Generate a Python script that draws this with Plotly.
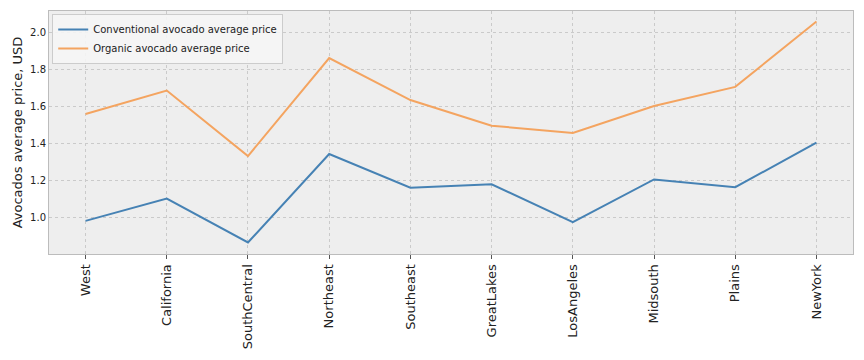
import plotly.graph_objects as go

regions = ["West", "California", "SouthCentral", "Northeast", "Southeast",
           "GreatLakes", "LosAngeles", "Midsouth", "Plains", "NewYork"]
conventional = [0.984, 1.104, 0.868, 1.344, 1.163, 1.181, 0.977, 1.207, 1.165, 1.405]
organic = [1.559, 1.685, 1.333, 1.860, 1.634, 1.496, 1.457, 1.602, 1.705, 2.057]
y_ticks = [1.0, 1.2, 1.4, 1.6, 1.8, 2.0]

fig = go.Figure()
fig.add_trace(go.Scatter(x=list(range(len(regions))), y=conventional, mode="lines",
                         name="Conventional avocado average price",
                         line=dict(color="#4682B4", width=2)))
fig.add_trace(go.Scatter(x=list(range(len(regions))), y=organic, mode="lines",
                         name="Organic avocado average price",
                         line=dict(color="#F4A460", width=2)))

fig.update_layout(
    width=864, height=360,
    margin=dict(l=49, r=11, t=11, b=106),
    paper_bgcolor="white", plot_bgcolor="#eeeeee",
    font=dict(family="DejaVu Sans", color="#222222"),
    showlegend=True,
    legend=dict(x=0.004, y=0.988, xanchor="left", yanchor="top",
                bgcolor="rgba(245,245,245,0.9)", bordercolor="#cccccc", borderwidth=1,
                font=dict(size=10, family="DejaVu Sans"), tracegroupgap=0,
                itemwidth=30),
    xaxis=dict(range=[-0.45, 9.45], tickmode="array",
               tickvals=list(range(len(regions))), ticktext=regions,
               tickangle=-90, tickfont=dict(size=13), showgrid=True,
               gridcolor="#cacaca", griddash="dot", gridwidth=1,
               ticks="outside", ticklen=4, tickcolor="#555555",
               showline=True, linecolor="#bcbcbc", mirror=True, zeroline=False,
               automargin=False),
    yaxis=dict(range=[0.806, 2.113], tickmode="array", tickvals=y_ticks,
               ticktext=[f"{v:.1f}" for v in y_ticks], tickfont=dict(size=10),
               title=dict(text="Avocados average price, USD", font=dict(size=13), standoff=4),
               showgrid=True, gridcolor="#cacaca", griddash="dot", gridwidth=1,
               ticks="", showline=True, linecolor="#bcbcbc", mirror=True, zeroline=False,
               automargin=False),
)

fig.write_html("out.html", config={"displayModeBar": False},
               post_script="document.body.style.margin='0';document.body.style.overflow='hidden';")
